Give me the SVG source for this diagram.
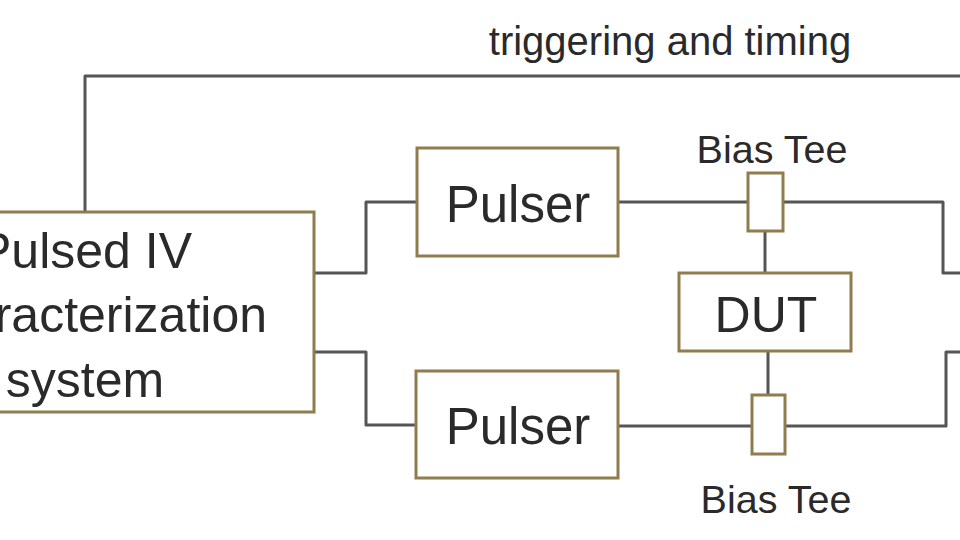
<svg xmlns="http://www.w3.org/2000/svg" width="960" height="540" viewBox="0 0 960 540">
  <style>
    .box { fill: #ffffff; stroke: #8f7c4f; stroke-width: 3; }
    .wire { fill: none; stroke: #555555; stroke-width: 3; stroke-linejoin: round; }
    .t { font-family: "Liberation Sans", Arial, sans-serif; fill: #2a2a2a; text-anchor: middle; }
  </style>
  <rect width="960" height="540" fill="#ffffff"/>
  <g id="connectors">
    <path class="wire" d="M85,212 V76 H962"/>
    <path class="wire" d="M314,273 H366 V202 H417"/>
    <path class="wire" d="M314,352 H366 V425 H416"/>
    <path class="wire" d="M618,202 H748"/>
    <path class="wire" d="M783,202 H943 V273 H962"/>
    <path class="wire" d="M765,231 V273"/>
    <path class="wire" d="M768,351 V395"/>
    <path class="wire" d="M618,426 H752"/>
    <path class="wire" d="M785,426 H946 V352 H962"/>
  </g>
  <g id="label-trigger">
    <text class="t" x="670" y="55" font-size="40">triggering and timing</text>
  </g>
  <g id="system">
    <rect class="box" x="-144" y="212" width="458" height="200"/>
    <text class="t" x="85" y="268" font-size="50">Pulsed IV</text>
    <text class="t" x="85" y="332" font-size="50">Characterization</text>
    <text class="t" x="85" y="397" font-size="50">system</text>
  </g>
  <g id="pulser-top">
    <rect class="box" x="417" y="148" width="201" height="108"/>
    <text class="t" x="518" y="222" font-size="51">Pulser</text>
  </g>
  <g id="pulser-bottom">
    <rect class="box" x="416" y="371" width="202" height="107"/>
    <text class="t" x="518" y="444" font-size="51">Pulser</text>
  </g>
  <g id="biastee-top">
    <rect class="box" x="748" y="173" width="35" height="58"/>
    <text class="t" x="772" y="163" font-size="39.5">Bias Tee</text>
  </g>
  <g id="biastee-bottom">
    <rect class="box" x="752" y="395" width="33" height="59"/>
    <text class="t" x="776" y="513" font-size="39.5">Bias Tee</text>
  </g>
  <g id="dut">
    <rect class="box" x="679" y="273" width="172" height="78"/>
    <text class="t" x="766" y="332" font-size="50">DUT</text>
  </g>
</svg>
